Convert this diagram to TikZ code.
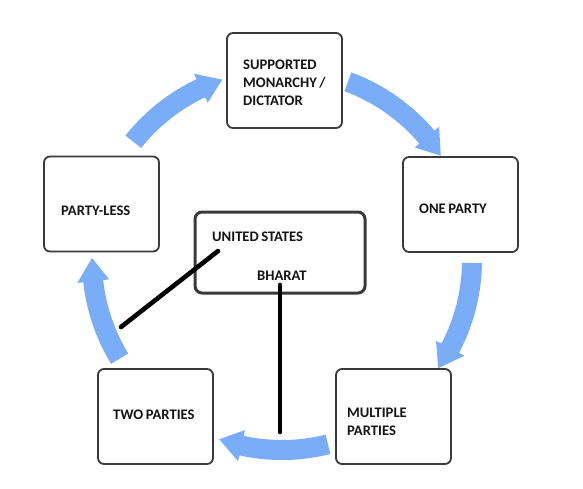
\documentclass[tikz,border=0pt]{standalone}
\usepackage{fontspec}
\setmainfont{Carlito}[WordSpace=0.75]
\definecolor{arrowblue}{RGB}{122,173,248}
\definecolor{boxgray}{RGB}{58,58,58}
\definecolor{txt}{RGB}{20,20,20}
\newcommand\cycarrow[2]{%
  \fill[arrowblue] ([shift={(282,260)}]#1:200) arc[start angle=#1, end angle={#2-7}, radius=200]
    -- ([shift={(282,260)}]{#2-7}:206) -- ([shift={(282,260)}]#2:190)
    -- ([shift={(282,260)}]{#2-7}:174) -- ([shift={(282,260)}]{#2-7}:180)
    arc[start angle={#2-7}, end angle=#1, radius=180] -- cycle;}
\begin{document}
\begin{tikzpicture}[x=1pt,y=-1pt,
  box/.style={draw=boxgray, line width=1.8pt, rounded corners=6pt, fill=white,
    minimum width=115pt, minimum height=95pt},
  boxtext/.style={inner sep=0pt, align=left, anchor=west,
    font=\fontsize{14.6}{17.8}\selectfont\bfseries, text=txt},
  centerbox/.style={draw=boxgray, line width=3pt, rounded corners=7pt,
    minimum width=170pt, minimum height=81pt},
  conn/.style={draw=black, line width=4.6pt, line cap=round}]
\fill[white] (0,0) rectangle (583,488);
\useasboundingbox (0,0) rectangle (583,488);
% cycle arrows
\cycarrow{-141.5}{-108.3}
\cycarrow{-69.7}{-33.3}
\cycarrow{0.9}{34.7}
\cycarrow{76}{109.3}
\cycarrow{148.7}{180.6}
% boxes
\node[box] (sup) at (284.5,80.5) {};
\node[boxtext] (supt) at (243,82.5) {SUPPORTED\\MONARCHY /\\DICTATOR};
\node[box] (one) at (460.5,204.5) {};
\node[boxtext] (onet) at (419,209) {ONE PARTY};
\node[box] (mult) at (393.5,416.5) {};
\node[boxtext] (multt) at (347,422) {MULTIPLE\\PARTIES};
\node[box] (two) at (155.5,416.5) {};
\node[boxtext] (twot) at (113,415) {TWO PARTIES};
\node[box] (less) at (101.5,204) {};
\node[boxtext] (lesst) at (61,211) {PARTY-LESS};
% center box
\node[centerbox] (mid) at (280,252.5) {};
\node[boxtext] (usa) at (212,237) {UNITED STATES};
\node[boxtext] (bharat) at (257,276) {BHARAT};
\coordinate (uend) at (121,327);
\coordinate (bend) at (280,432);
\draw[conn] ([shift={(6,9)}]usa.south west) -- (uend);
\draw[conn] (bend |- bharat.south) ++(0,4) -- (bend);
\end{tikzpicture}
\end{document}
